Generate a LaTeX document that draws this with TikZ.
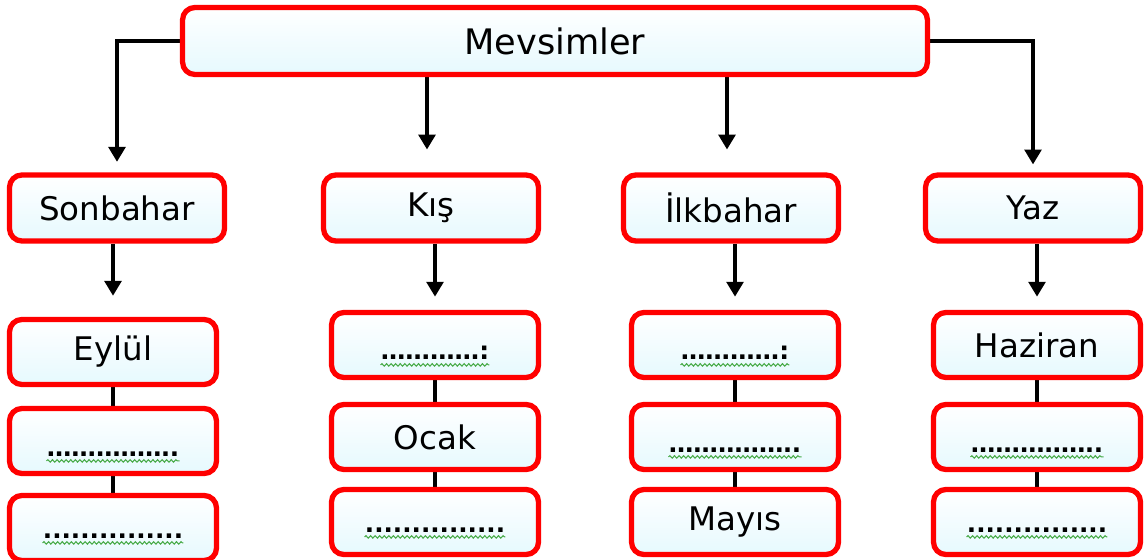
\documentclass[tikz,border=0pt]{standalone}
\usepackage{fontspec}
\setmainfont{DejaVu Sans}
\usepackage{xcolor}
\usepackage{tikz}
\usetikzlibrary{calc,positioning,backgrounds}
\usetikzlibrary{arrows.meta,decorations.pathmorphing}
\tikzset{
	box/.style={draw=BoxRed, line width=3pt, rounded corners=7pt, top color=white, bottom color=BoxFill, minimum width=4.14cm, minimum height=1.3cm, inner sep=0pt, font=\fontsize{18.5}{20}\selectfont},
	season/.style={box, minimum width=4.3cm, minimum height=1.32cm},
	blank/.style={inner sep=0pt, anchor=base, font=\fontsize{14}{16}\selectfont\bfseries},
	wavy/.style={draw=WavyGreen, line width=0.6pt, decorate, decoration={snake, amplitude=0.7pt, segment length=2.6pt}},
	link/.style={line width=2.3pt},
	arrow/.style={link, -{Triangle[length=8.5pt, width=9.5pt]}},
}
\definecolor{BoxRed}{RGB}{255, 0, 0}
\definecolor{BoxFill}{RGB}{230, 249, 254}
\definecolor{WavyGreen}{RGB}{70, 170, 70}

\begin{document}
\begin{tikzpicture}[x=0.02cm, y=-0.02cm]
\useasboundingbox (0,0) rectangle (1145,560);

\node[box, minimum width=14.9cm, minimum height=1.34cm, font=\fontsize{20}{22}\selectfont] (mevsim) at (555,41) {Mevsimler};

\node[season] (sonbahar) at (117,208) {Sonbahar};
\node[season] (kis) at (431,208) {Kış};
\node[season] (ilkbahar) at (731,208) {İlkbahar};
\node[season] (yaz) at (1033,208) {Yaz};

% months
\node[box] (eylul) at (113,352) {Eylül};
\node[box] (s2) at (113,441) {};
\node[box] (s3) at (113,528) {};

\node[box] (k1) at (435,345) {};
\node[box] (ocak) at (435,437) {Ocak};
\node[box] (k3) at (435,522) {};

\node[box] (i1) at (735,345) {};
\node[box] (i2) at (735,437) {};
\node[box] (mayis) at (735,522) {Mayıs};

\node[box] (haziran) at (1037,345) {Haziran};
\node[box] (y2) at (1037,437) {};
\node[box] (y3) at (1037,522) {};

\begin{scope}[on background layer]
\draw[arrow, shorten >=6pt] (mevsim.west) -| (sonbahar.north);
\draw[arrow, shorten >=13pt] ([xshift=-0.08cm]mevsim.south -| kis.north) -- ([xshift=-0.08cm]kis.north);
\draw[arrow, shorten >=13pt] ([xshift=-0.08cm]mevsim.south -| ilkbahar.north) -- ([xshift=-0.08cm]ilkbahar.north);
\draw[arrow, shorten >=4.5pt] (mevsim.east) -| (yaz.north);

\draw[arrow, shorten >=12pt] (sonbahar.south -| eylul.north) -- (eylul.north);
\draw[arrow, shorten >=7.5pt] (kis.south -| k1.north) -- (k1.north);
\draw[arrow, shorten >=7.5pt] (ilkbahar.south -| i1.north) -- (i1.north);
\draw[arrow, shorten >=7.5pt] (yaz.south -| haziran.north) -- (haziran.north);

\draw[link] (eylul) -- (s2) -- (s3);
\draw[link] (k1) -- (ocak) -- (k3);
\draw[link] (i1) -- (i2) -- (mayis);
\draw[link] (haziran) -- (y2) -- (y3);
\end{scope}

% blanks to fill in
\node[blank] (s2t) at ([yshift=-0.3cm]s2.center) {…………….};
\node[blank] (s3t) at ([yshift=-0.2cm]s3.center) {...............};
\node[blank] (k1t) at ([yshift=-0.3cm]k1.center) {…………:};
\node[blank] (k3t) at ([yshift=-0.2cm]k3.center) {...............};
\node[blank] (i1t) at ([yshift=-0.3cm]i1.center) {…………:};
\node[blank] (i2t) at ([yshift=-0.3cm]i2.center) {…………….};
\node[blank] (y2t) at ([yshift=-0.3cm]y2.center) {…………….};
\node[blank] (y3t) at ([yshift=-0.2cm]y3.center) {...............};

\draw[wavy] ([yshift=-2.8pt]s2t.base west) -- ([yshift=-2.8pt]s2t.base east);
\draw[wavy] ([yshift=-2.8pt]s3t.base west) -- ([yshift=-2.8pt]s3t.base east);
\draw[wavy] ([yshift=-2.8pt]k1t.base west) -- ([yshift=-2.8pt]k1t.base east);
\draw[wavy] ([yshift=-2.8pt]k3t.base west) -- ([yshift=-2.8pt]k3t.base east);
\draw[wavy] ([yshift=-2.8pt]i1t.base west) -- ([yshift=-2.8pt]i1t.base east);
\draw[wavy] ([yshift=-2.8pt]i2t.base west) -- ([yshift=-2.8pt]i2t.base east);
\draw[wavy] ([yshift=-2.8pt]y2t.base west) -- ([yshift=-2.8pt]y2t.base east);
\draw[wavy] ([yshift=-2.8pt]y3t.base west) -- ([yshift=-2.8pt]y3t.base east);
\end{tikzpicture}
\end{document}
